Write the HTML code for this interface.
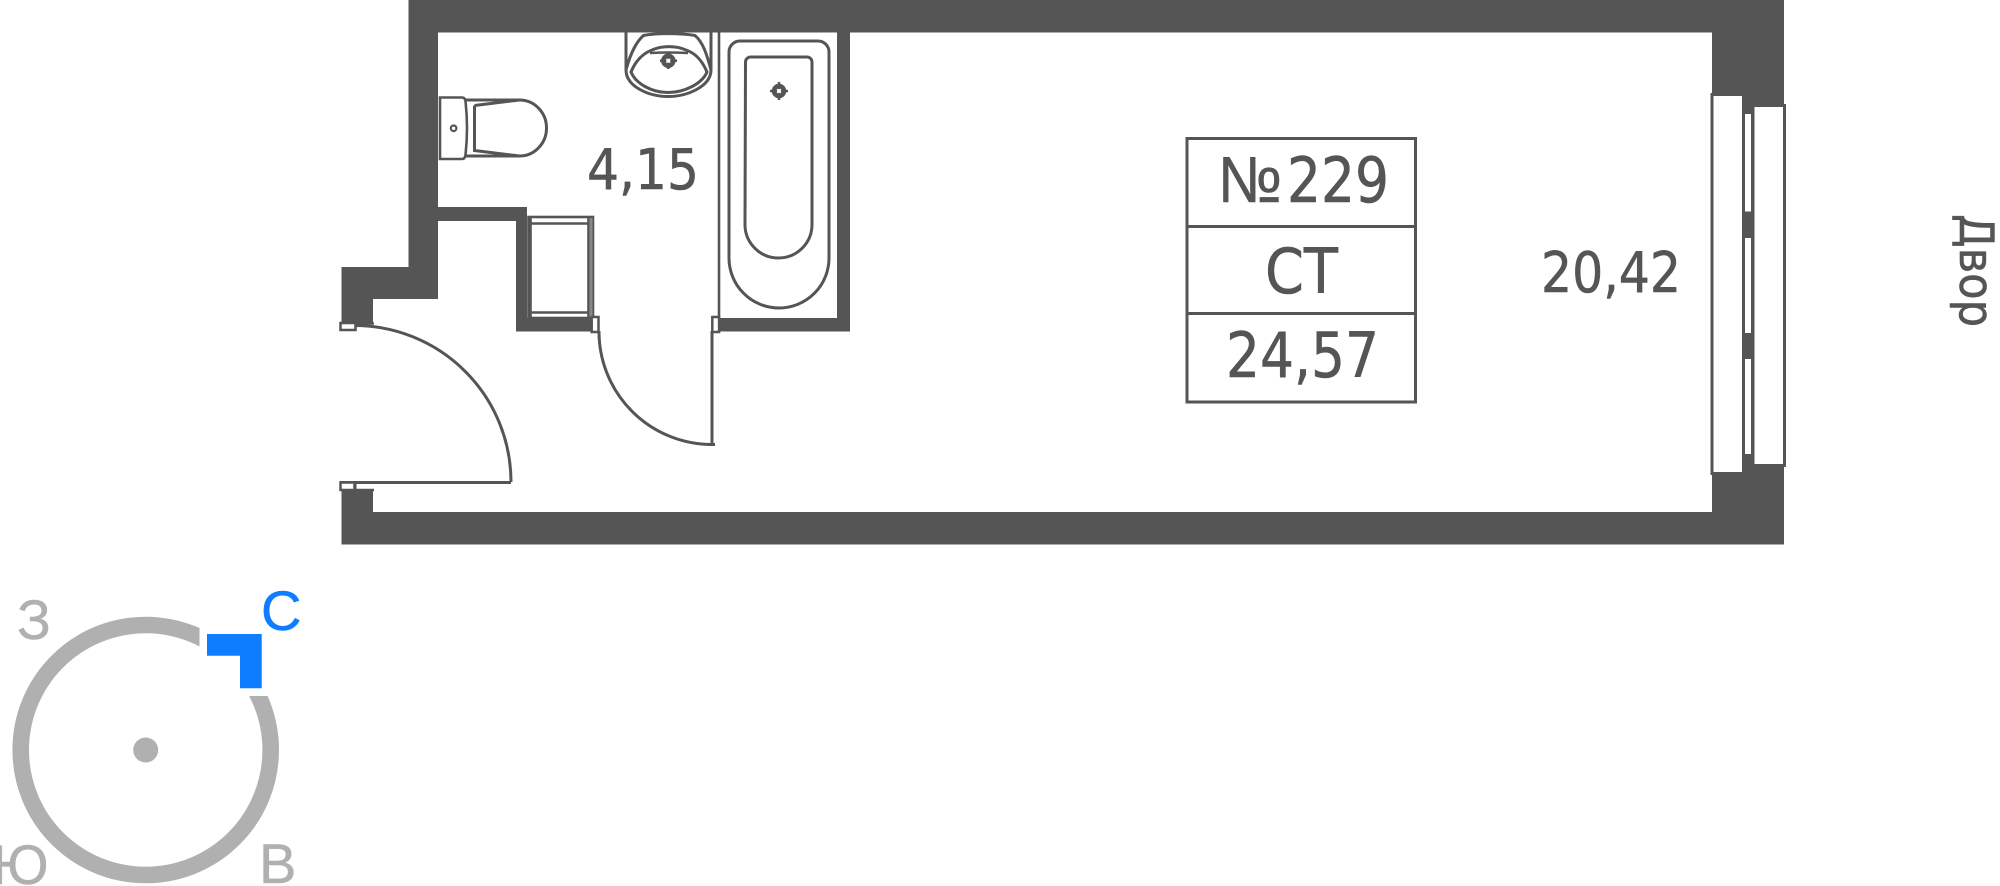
<!DOCTYPE html>
<html><head><meta charset="utf-8"><style>
html,body{margin:0;padding:0;background:#fff;width:2000px;height:886px;overflow:hidden}
svg{display:block}
.t{font-family:"DejaVu Sans","Liberation Sans",sans-serif;fill:#555;stroke:#555;stroke-width:.6}
.c{font-family:"Liberation Sans",sans-serif;font-size:56px;fill:#b0b0b0;stroke:#b0b0b0;stroke-width:.5}
.l{fill:none;stroke:#555;stroke-width:3}
.n{fill:none;stroke:#555;stroke-width:2.600}
.w{fill:#fff;stroke:#555;stroke-width:3}
</style></head><body>
<svg width="2000" height="886" viewBox="0 0 2000 886" xmlns="http://www.w3.org/2000/svg">
<!-- walls -->
<path fill="#555" d="M408.500 0H1784V544.500H341.500V490H373V512H1712V32.500H850V331.500H719V318H837V32.500H438V207H527V318H592.500V331.500H516V221H438V299H373V323H341.500V267H408.500Z"/>
<!-- windows -->
<rect x="1745" y="114" width="6" height="97.500" fill="#fff"/>
<rect x="1745" y="238" width="6" height="95" fill="#fff"/>
<rect x="1745" y="359" width="6" height="95" fill="#fff"/>
<rect class="w" x="1712" y="94.500" width="31.500" height="379"/>
<rect class="w" x="1753" y="105.500" width="31.500" height="360"/>
<!-- bath wall lines -->
<path class="n" d="M719 32V318"/>
<!-- bath -->
<path class="l" d="M729 52a11 11 0 0 1 11-11h78a11 11 0 0 1 11 11V258a50 50 0 0 1-100 0Z"/>
<path class="l" d="M745.500 62a5 5 0 0 1 5-5h56.500a5 5 0 0 1 5 5V224.500a33.500 33.500 0 0 1-67 0Z"/>
<circle cx="779" cy="91" r="5" fill="none" stroke="#555" stroke-width="4.500"/>
<path stroke="#555" stroke-width="2.500" d="M779 82v18M770 91h18"/>
<circle cx="779" cy="91" r="2" fill="#fff"/>
<!-- sink -->
<path class="l" d="M626 32V70C626 86 648 96.500 668 96.500S711 86 711 70V32"/>
<path class="l" d="M626 70C630 55 636 42 643.500 35.500C655 33 682 33 695 35.500C703 42 707 55 711 70"/>
<path class="l" d="M631 72C636 60 644 53 652 50C662 45.500 676 45.500 686 50C695 53 702 60 707 72C702 84 684 92.500 668 92.500S636 84 631 72Z"/>
<path class="n" d="M650 53Q668 52 688 53"/>
<circle cx="668.300" cy="60.700" r="5" fill="none" stroke="#555" stroke-width="4.500"/>
<path stroke="#555" stroke-width="2.500" d="M668.300 52v17M660 60.700h17"/>
<circle cx="668.300" cy="60.700" r="2" fill="#fff"/>
<!-- toilet -->
<path class="n" d="M440 97.500H462Q465 97.500 465.500 101Q468.500 128 465.500 155Q465 159 462 159H440Z"/>
<path class="l" d="M465 100H519.500a27 28 0 0 1 0 56H465"/>
<path class="l" d="M474.500 105.500L519.500 100M474.500 105.500V150.500L519.500 156"/>
<circle cx="453.600" cy="128.300" r="2.800" fill="none" stroke="#555" stroke-width="2.200"/>
<!-- cabinet -->
<rect class="n" x="528.500" y="217" width="64.500" height="101"/>
<path class="n" d="M530.500 217V318M588.500 217V318M528.500 223.500H593M528.500 312.500H593"/>
<path stroke="#888" stroke-width="3" d="M591 218V317"/>
<!-- door 1 jambs -->
<rect x="591.700" y="317" width="6.800" height="15" fill="#fff" stroke="#555" stroke-width="2.500"/>
<rect x="712.300" y="317" width="6.800" height="15" fill="#fff" stroke="#555" stroke-width="2.500"/>
<path class="l" d="M599 331A113 113 0 0 0 712 444.500V331M712 444.500h3"/>
<!-- entry door -->
<rect x="340.500" y="323" width="15" height="7" fill="#fff" stroke="#555" stroke-width="2.500"/>
<path class="l" d="M355 325.500A156.500 156.500 0 0 1 511 482M340 482.500H511"/>
<rect x="340.500" y="482.500" width="14" height="7.500" fill="#fff" stroke="#555" stroke-width="2.500"/>
<rect x="354" y="482.500" width="2.500" height="7.500" fill="#555"/>
<path class="n" d="M356 490H374M355 323.500H374"/>
<!-- table -->
<rect class="w" x="1187" y="138.500" width="228.500" height="263.500"/>
<path class="l" d="M1187 226.500H1416M1187 313.500H1416"/>
<text class="t" x="1218" y="202" style="font-family:'Liberation Sans',sans-serif" font-size="65" textLength="64" lengthAdjust="spacingAndGlyphs">№</text>
<text class="t" x="1287" y="202" font-size="62" textLength="102" lengthAdjust="spacingAndGlyphs">229</text>
<text class="t" x="1265" y="293" font-size="62" textLength="73" lengthAdjust="spacingAndGlyphs">СТ</text>
<text class="t" x="1226" y="377" font-size="62" textLength="153" lengthAdjust="spacingAndGlyphs">24,57</text>
<text class="t" x="1541" y="292" font-size="56" textLength="140" lengthAdjust="spacingAndGlyphs">20,42</text>
<text class="t" x="587" y="189" font-size="56" textLength="112" lengthAdjust="spacingAndGlyphs">4,15</text>
<text class="t" transform="translate(1960 214) rotate(90)" font-size="47" textLength="113" lengthAdjust="spacingAndGlyphs">Двор</text>
<!-- compass -->
<circle cx="145.700" cy="750" r="125" fill="none" stroke="#b0b0b0" stroke-width="16.600"/>
<rect x="199.500" y="600" width="100" height="96" fill="#fff"/>
<circle cx="145.700" cy="750" r="12.500" fill="#b0b0b0"/>
<path fill="#0f7dff" d="M207 634H261.700V688.300H240V655.700H207Z"/>
<text class="c" x="261" y="630" style="fill:#0f7dff;stroke:#0f7dff">С</text>
<text class="c" x="17" y="639">З</text>
<text class="c" x="-8" y="884">Ю</text>
<text class="c" x="259" y="883">В</text>
</svg>
</body></html>
